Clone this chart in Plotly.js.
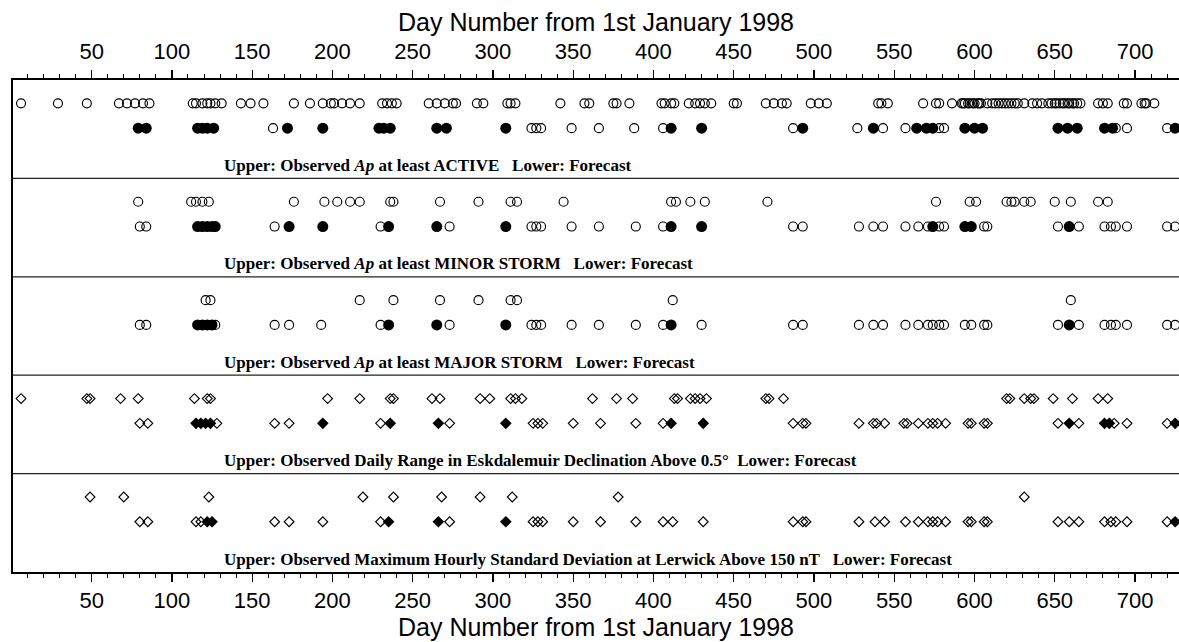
<!DOCTYPE html>
<html>
<head>
<meta charset="utf-8">
<script src="https://cdn.plot.ly/plotly-3.0.1.min.js"></script>
<style>html,body{margin:0;padding:0;background:#fff;}#chart{width:1179px;height:642px;}</style>
</head>
<body>
<div id="chart"></div>
<script>
// ---- Data (day numbers from 1st January 1998) ----
const P1_OBSERVED = [6,29,47,67,72,77,82,86,113,115,119,122,124,127,131,143,149,157,176,186,194,199,201,206,211,217,231,234,237,240,260,265,270,275,277,290,294,309,311,314,342,357,360,375,377,385,405,407,411,413,422,426,429,432,436,450,452,470,475,480,483,498,503,508,540,542,546,568,576,578,586,592,593,594,596,597,599,600,602,603,604,608,611,613,615,617,619,621,623,625,627,631,636,639,642,646,648,650,651,653,655,656,658,659,661,662,664,666,677,680,683,693,695,704,706,707,712];
const P1_FC_HIT = [79,84,116,119,122,126,172,194,229,232,236,265,271,308,411,430,493,537,564,570,574,594,600,605,652,658,664,681,686,725];
const P1_FC_MISS = [163,324,327,330,349,366,388,406,487,527,543,557,578,581,688,695,720];

const P2_OBSERVED = [79,112,115,119,123,176,195,203,211,217,236,238,267,291,311,315,344,411,414,423,432,471,576,597,601,620,623,625,631,635,650,660,677,683];
const P2_FC_HIT = [116,119,122,125,127,173,194,235,265,308,411,430,574,594,598,659];
const P2_FC_MISS = [80,84,164,230,273,324,327,330,349,366,389,406,487,493,528,537,543,557,565,571,578,581,606,608,652,665,681,685,688,695,720,725];

const P3_OBSERVED = [121,124,217,238,267,291,311,315,412,660];
const P3_FC_HIT = [116,119,122,125,235,265,308,411,659];
const P3_FC_MISS = [80,84,127,164,173,193,230,273,324,327,330,349,366,389,406,430,487,493,528,537,543,557,565,571,574,578,581,594,598,606,608,652,665,681,685,688,695,720,725];

const P4_OBSERVED = [6,47,49,68,79,114,122,124,197,217,236,238,262,267,292,298,311,314,318,362,377,387,413,415,423,426,429,433,470,472,481,620,622,631,635,637,649,661,677,683];
const P4_FC_HIT = [115,118,121,124,194,236,266,308,411,431,659,681,684,725];
const P4_FC_MISS = [80,85,128,164,173,230,273,325,328,331,350,367,389,406,487,493,495,528,537,539,544,556,558,565,571,574,577,582,596,598,606,608,652,665,687,695,720];

const P5_OBSERVED = [49,70,123,219,238,268,292,312,378,631];
const P5_FC_HIT = [122,125,235,266,308,725];
const P5_FC_MISS = [80,85,115,118,164,173,194,230,273,325,328,331,350,367,389,406,412,431,487,493,495,528,538,544,557,565,571,574,577,582,596,598,606,608,652,659,665,681,685,688,695,720];

const PANEL_LABELS = [
  "Upper: Observed <i>Ap</i> at least ACTIVE\u00a0\u00a0 Lower: Forecast",
  "Upper: Observed <i>Ap</i> at least MINOR STORM\u00a0\u00a0 Lower: Forecast",
  "Upper: Observed <i>Ap</i> at least MAJOR STORM\u00a0\u00a0 Lower: Forecast",
  "Upper: Observed Daily Range in Eskdalemuir Declination Above 0.5\u00b0\u00a0 Lower: Forecast",
  "Upper: Observed Maximum Hourly Standard Deviation at Lerwick Above 150 nT\u00a0\u00a0 Lower: Forecast"
];
const X_TITLE = "Day Number from 1st January 1998";
const ROW_UPPER = 1, ROW_LOWER = 2;

const panels = [
  {obs: P1_OBSERVED, hit: P1_FC_HIT, miss: P1_FC_MISS, shape: 'circle'},
  {obs: P2_OBSERVED, hit: P2_FC_HIT, miss: P2_FC_MISS, shape: 'circle'},
  {obs: P3_OBSERVED, hit: P3_FC_HIT, miss: P3_FC_MISS, shape: 'circle'},
  {obs: P4_OBSERVED, hit: P4_FC_HIT, miss: P4_FC_MISS, shape: 'diamond'},
  {obs: P5_OBSERVED, hit: P5_FC_HIT, miss: P5_FC_MISS, shape: 'diamond'}
];

const traces = [];
panels.forEach((p, i) => {
  const xa = i === 0 ? 'x2' : 'x';
  const ya = i === 0 ? 'y' : 'y' + (i + 1);
  const isC = p.shape === 'circle';
  const openSize = isC ? 9 : 7.5;
  const fillSize = isC ? 11 : 9;
  const mk = (days, row, filled) => ({
    type: 'scatter', mode: 'markers', xaxis: xa, yaxis: ya,
    x: days, y: days.map(() => row), hoverinfo: 'x', showlegend: false,
    marker: filled
      ? {symbol: p.shape, size: fillSize, color: '#000', line: {width: 0}}
      : {symbol: p.shape + '-open', size: openSize, color: '#000', line: {width: 1.15, color: '#000'}}
  });
  traces.push(mk(p.obs, ROW_UPPER, false));
  traces.push(mk(p.miss, ROW_LOWER, false));
  traces.push(mk(p.hit, ROW_LOWER, true));
});

const XR = [1.0, 727.4];
const tickFont = {family: 'Liberation Sans, Arial, sans-serif', size: 22, color: '#000'};
const titleFont = {family: 'Liberation Sans, Arial, sans-serif', size: 25, color: '#000'};
const baseX = {
  range: XR, tick0: 0, dtick: 50, ticks: 'outside', ticklen: 8, tickwidth: 1.2, tickcolor: '#000',
  showline: true, linewidth: 2, linecolor: '#000', showgrid: false, zeroline: false,
  tickfont: tickFont,
  minor: {dtick: 10, tick0: 0, ticks: 'outside', ticklen: 4, tickwidth: 1, tickcolor: '#000', showgrid: false}
};

const layout = {
  width: 1179, height: 642,
  margin: {l: 13, r: 0, t: 80, b: 70},
  paper_bgcolor: '#fff', plot_bgcolor: '#fff',
  showlegend: false,
  xaxis: Object.assign({}, baseX, {anchor: 'y5', side: 'bottom', ticklabelstandoff: 0,
    title: {text: X_TITLE, font: titleFont, standoff: 0}}),
  xaxis2: Object.assign({}, baseX, {anchor: 'y', side: 'top', matches: 'x', ticklabelstandoff: 2,
    title: {text: X_TITLE, font: titleFont, standoff: 0}}),
  shapes: [],
  annotations: []
};
for (let i = 0; i < 5; i++) {
  const key = i === 0 ? 'yaxis' : 'yaxis' + (i + 1);
  layout[key] = {
    domain: [1 - (i + 1) / 5, 1 - i / 5], range: [4.03, 0.056], anchor: i === 0 ? 'x2' : 'x',
    showticklabels: false, ticks: '', showgrid: false, zeroline: false,
    showline: true, linewidth: 2, linecolor: '#000', fixedrange: true
  };
  if (i > 0) {
    layout.shapes.push({type: 'line', xref: 'paper', yref: 'paper', x0: 0, x1: 1,
      y0: 1 - i / 5, y1: 1 - i / 5, line: {color: '#222', width: 1.3}});
  }
  layout.annotations.push({
    xref: 'paper', yref: (i === 0 ? 'y' : 'y' + (i + 1)) + ' domain',
    x: 0.179, y: 0.131, xanchor: 'left', yanchor: 'middle', showarrow: false,
    text: '<b>' + PANEL_LABELS[i] + '</b>',
    font: {family: 'Liberation Serif, Times New Roman, serif', size: 17, color: '#000'}
  });
}

Plotly.newPlot('chart', traces, layout, {staticPlot: true, displayModeBar: false});
</script>
</body>
</html>
